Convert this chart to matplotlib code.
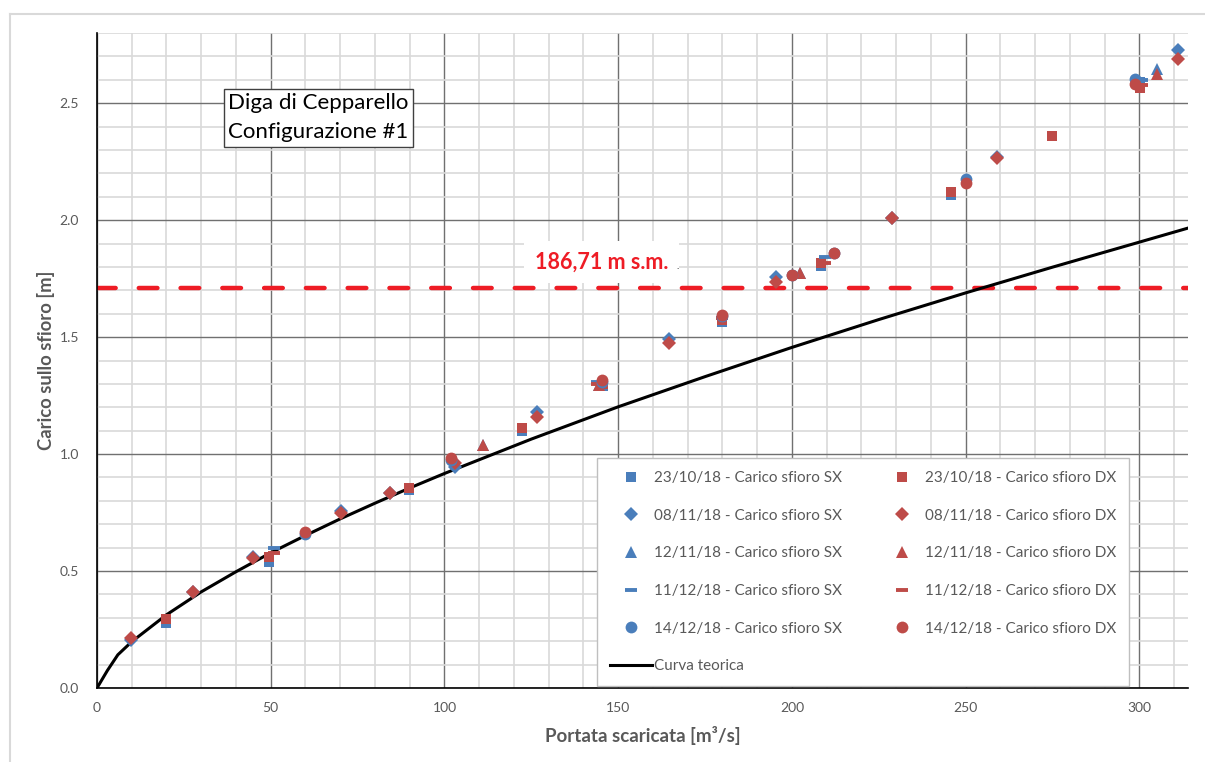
import numpy as np
import matplotlib
matplotlib.use('Agg')
import matplotlib.pyplot as plt
from matplotlib.lines import Line2D
from matplotlib.ticker import MultipleLocator

plt.rcParams['font.family'] = ['Lato', 'DejaVu Sans']

# --- dati ---
# 23/10/18 (quadrati)
sq_x = [19.9, 49.6, 89.9, 122.2, 145.5, 179.8, 208.4, 245.8, 274.8, 300.2]
sq_sx = [0.280, 0.540, 0.845, 1.100, 1.290, 1.565, 1.803, 2.107, 2.360, 2.590]
sq_dx = [0.295, 0.558, 0.855, 1.110, 1.300, 1.575, 1.815, 2.121, 2.360, 2.567]
# 08/11/18 (rombi)
dia_x = [9.8, 27.7, 44.8, 70.1, 84.3, 103.0, 126.6, 164.7, 195.4, 228.8, 259.0, 311.0]
dia_sx = [0.205, 0.410, 0.562, 0.755, 0.835, 0.945, 1.180, 1.490, 1.758, 2.008, 2.270, 2.726]
dia_dx = [0.212, 0.409, 0.557, 0.749, 0.835, 0.960, 1.160, 1.473, 1.736, 2.008, 2.266, 2.690]
# 12/11/18 (triangoli)
tri_x = [111.2, 144.5, 202.4, 305.2]
tri_sx = [1.038, 1.295, 1.772, 2.648]
tri_dx = [1.038, 1.295, 1.772, 2.626]
# 11/12/18 (trattini)
dash_x = [51.0, 143.8, 179.8, 209.6, 300.7]
dash_sx = [0.597, 1.310, 1.580, 1.843, 2.600]
dash_dx = [0.578, 1.300, 1.580, 1.816, 2.577]
# 14/12/18 (cerchi)
circ_x = [59.9, 101.9, 145.2, 179.8, 200.1, 212.0, 250.0, 298.7]
circ_sx = [0.660, 0.975, 1.310, 1.590, 1.765, 1.860, 2.178, 2.605]
circ_dx = [0.668, 0.982, 1.316, 1.594, 1.765, 1.860, 2.160, 2.580]

# curva teorica
curve_q = [0, 3, 6, 10, 20, 30, 40, 50, 60, 70, 80, 90, 100, 125, 150, 175, 200, 225, 250, 275, 300, 314]
curve_h = [0, 0.075, 0.142, 0.198, 0.313, 0.411, 0.497, 0.578, 0.652, 0.723, 0.790, 0.855, 0.917,
           1.064, 1.202, 1.331, 1.456, 1.575, 1.689, 1.799, 1.906, 1.966]

quota_sfioro = 1.71

dates = ['23/10/18', '08/11/18', '12/11/18', '11/12/18', '14/12/18']
series = [(sq_x, sq_sx, sq_dx, 's', 7.5),
          (dia_x, dia_sx, dia_dx, 'D', 7.5),
          (tri_x, tri_sx, tri_dx, '^', 9),
          (dash_x, dash_sx, dash_dx, '_', 9),
          (circ_x, circ_sx, circ_dx, 'o', 8.5)]

blue = '#4A7EBB'
red = '#BE4B48'
gray_txt = '#595959'

fig = plt.figure(figsize=(12.05, 7.62), dpi=100)
ax = fig.add_axes([97 / 1205, 1 - 688 / 762, 1091 / 1205, 655 / 762])

# cornice del grafico
fig.add_artist(Line2D([10 / 1205, 10 / 1205], [0, 1 - 14 / 762], color='#D9D9D9', lw=1.5))
fig.add_artist(Line2D([10 / 1205, 1], [1 - 14 / 762, 1 - 14 / 762], color='#D9D9D9', lw=1.5))

ax.set_xlim(0, 314)
ax.set_ylim(0, 2.8)
ax.xaxis.set_major_locator(MultipleLocator(50))
ax.xaxis.set_minor_locator(MultipleLocator(10))
ax.yaxis.set_major_locator(MultipleLocator(0.5))
ax.yaxis.set_minor_locator(MultipleLocator(0.1))
ax.yaxis.set_major_formatter(plt.FormatStrFormatter('%.1f'))
ax.grid(which='minor', color='#D9D9D9', lw=1.2, zorder=0)
ax.grid(which='major', color='#707070', lw=1.0, zorder=0)
ax.set_axisbelow(True)
for s in ['top', 'right']:
    ax.spines[s].set_visible(False)
for s in ['left', 'bottom']:
    ax.spines[s].set_color('black')
    ax.spines[s].set_linewidth(1.2)
ax.tick_params(which='both', length=0, labelsize=10, labelcolor=gray_txt)
ax.tick_params(axis='x', pad=10)
ax.tick_params(axis='y', pad=13)

ax.axhline(quota_sfioro, color='#EE1C25', lw=3.2, dashes=(4.2, 5.2),
           dash_capstyle='round', zorder=2)

handles_sx = []
handles_dx = []
for (x, ysx, ydx, m, ms), d in zip(series, dates):
    mew = 2.8 if m == '_' else 0
    h1, = ax.plot(x, ysx, ls='none', marker=m, ms=ms, color=blue, mew=mew,
                  label=d + ' - Carico sfioro SX', zorder=4)
    h2, = ax.plot(x, ydx, ls='none', marker=m, ms=ms, color=red, mew=mew,
                  label=d + ' - Carico sfioro DX', zorder=4)
    handles_sx.append(h1)
    handles_dx.append(h2)

hc, = ax.plot(curve_q, curve_h, color='black', lw=2.2, label='Curva teorica', zorder=3)

leg = ax.legend(handles=handles_sx + [hc] + handles_dx, ncol=2, loc='upper left',
                bbox_to_anchor=(0.458, 0.351), fontsize=11, labelcolor=gray_txt,
                frameon=True, fancybox=False, edgecolor='#BFBFBF', framealpha=1,
                labelspacing=1.55, handlelength=2.75, handletextpad=0.15,
                columnspacing=2.55, borderpad=0.85, borderaxespad=0)
leg.get_frame().set_linewidth(1.0)

ax.text(37.7, 2.438, 'Diga di Cepparello\nConfigurazione #1', fontsize=16,
        color='black', linespacing=1.55, va='center', ha='left',
        bbox=dict(boxstyle='square,pad=0.2', fc='white', ec='#404040', lw=1.0))

ax.text(145.3, 1.822, '186,71 m s.m.', fontsize=15.5, fontweight='bold', color='#EE1C25',
        ha='center', va='center', zorder=5,
        bbox=dict(boxstyle='square,pad=0.5', fc='white', ec='none'))
ax.text(166.8, 1.80, '.', fontsize=7, color='black', ha='left', va='center', zorder=6)

ax.set_xlabel('Portata scaricata [m³/s]', fontsize=13.5, fontweight='bold',
              color=gray_txt, labelpad=9)
ax.set_ylabel('Carico sullo sfioro [m]', fontsize=13.3, fontweight='bold',
              color=gray_txt, labelpad=3)

fig.savefig('out.png', dpi=100)
